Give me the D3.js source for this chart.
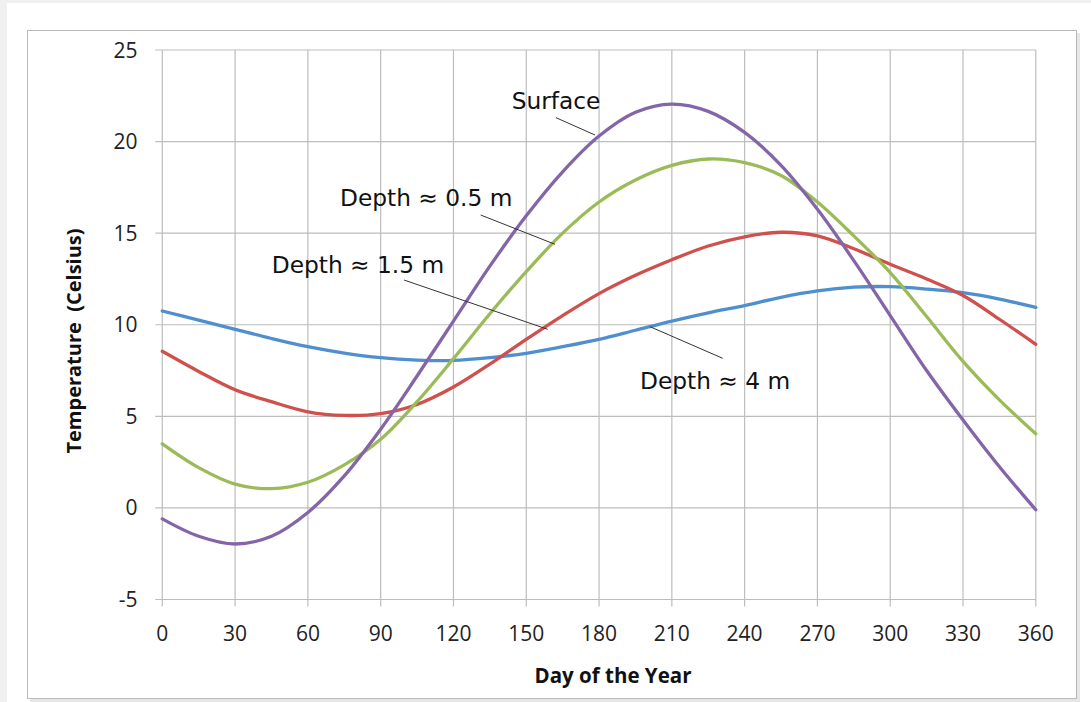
<!DOCTYPE html>
<html>
<head>
<meta charset="utf-8">
<script src="https://cdn.jsdelivr.net/npm/d3@7"></script>
<style>
  html, body { margin: 0; padding: 0; background: #f0f0f0; }
  svg { display: block; }
</style>
</head>
<body>
<svg id="chart" width="1091" height="702"></svg>
<script>
// ---- data ----
const days = [0,15,30,45,60,75,90,105,120,135,150,165,180,195,210,225,240,255,270,285,300,315,330,345,360];
const surface = [-0.6,-1.55,-1.97,-1.55,-0.25,1.75,4.3,7.2,10.2,13.2,15.95,18.35,20.3,21.6,22.05,21.65,20.5,18.7,16.3,13.5,10.5,7.5,4.8,2.25,-0.1];
const depth05 = [3.5,2.2,1.3,1.05,1.4,2.35,3.75,5.8,8.15,10.6,12.9,15.0,16.7,17.9,18.7,19.05,18.85,18.15,16.7,14.85,12.85,10.45,8.0,5.9,4.05];
const depth15 = [8.55,7.45,6.45,5.8,5.25,5.05,5.15,5.65,6.6,7.85,9.2,10.5,11.7,12.7,13.55,14.3,14.8,15.05,14.85,14.15,13.3,12.5,11.6,10.3,8.93];
const depth4  = [10.75,10.25,9.75,9.25,8.8,8.45,8.2,8.07,8.05,8.2,8.44,8.8,9.2,9.7,10.2,10.65,11.05,11.5,11.85,12.05,12.08,11.95,11.75,11.4,10.95];
const xTicks = [0,30,60,90,120,150,180,210,240,270,300,330,360];
const yTicks = [-5,0,5,10,15,20,25];
const seriesNames = ["Depth ≈ 4 m","Depth ≈ 1.5 m","Depth ≈ 0.5 m","Surface"];
const seriesColors = ["#4f8fd0","#cf504c","#9bbb59","#8466a8"];

const svg = d3.select("#chart");

// panel backgrounds
svg.append("rect").attr("x",7).attr("y",3).attr("width",1091-7).attr("height",702-3).attr("fill","#ffffff");
// frame with shadow
svg.append("rect").attr("x",30).attr("y",33).attr("width",1050).attr("height",669)
  .attr("fill","#d6d6d6").attr("opacity",0.6);
svg.append("rect").attr("x",27.5).attr("y",30.5).attr("width",1049).attr("height",668)
  .attr("fill","#ffffff").attr("stroke","#b9b9b9").attr("stroke-width",1);

const x = d3.scaleLinear().domain([0,360]).range([162.3,1035.8]);
const y = d3.scaleLinear().domain([-5,25]).range([599.5,50]);

// grid
const grid = svg.append("g");
grid.selectAll("line.v").data(xTicks).enter().append("line")
  .attr("x1",d=>x(d)).attr("x2",d=>x(d)).attr("y1",y(25)).attr("y2",y(-5)+7)
  .attr("stroke","#bdbdbd").attr("stroke-width",1.2);
grid.selectAll("line.h").data(yTicks).enter().append("line")
  .attr("y1",d=>y(d)).attr("y2",d=>y(d)).attr("x1",x(0)-7).attr("x2",x(360))
  .attr("stroke","#bdbdbd").attr("stroke-width",1.2);

// tick labels
svg.append("g").selectAll("text").data(yTicks).enter().append("text")
  .attr("x",137.5).attr("y",d=>y(d)+7.5)
  .attr("text-anchor","end").attr("font-family","Open Sans").attr("font-size",21).attr("fill","#222")
  .text(d=>d);
svg.append("g").selectAll("text").data(xTicks).enter().append("text")
  .attr("x",d=>x(d)).attr("y",640.5)
  .attr("text-anchor","middle").attr("font-family","Open Sans").attr("font-size",21).attr("fill","#222")
  .text(d=>d);

// axis titles
svg.append("text").attr("x",613).attr("y",683).attr("text-anchor","middle")
  .attr("font-family","Open Sans").attr("font-weight","bold").attr("font-size",20.5).attr("fill","#111")
  .text("Day of the Year");
svg.append("text").attr("transform","translate(81,341) rotate(-90)").attr("text-anchor","middle")
  .attr("font-family","Open Sans").attr("font-weight","bold").attr("font-size",20).attr("fill","#111")
  .attr("xml:space","preserve").style("white-space","pre")
  .text("Temperature  (Celsius)");

// lines
const allSeries = [depth4, depth15, depth05, surface];
const line = d3.line().x((d,i)=>x(days[i])).y(d=>y(d)).curve(d3.curveCatmullRom.alpha(0.5));
svg.append("g").selectAll("path").data(allSeries).enter().append("path")
  .attr("d",d=>line(d)).attr("fill","none")
  .attr("stroke",(d,i)=>seriesColors[i]).attr("stroke-width",3.3)
  .attr("stroke-linecap","round").attr("stroke-linejoin","round");

// annotations
const labels = [
  {t:"Surface", tx:511.7, ty:109.3, x1:556, y1:117.7, x2:595, y2:135},
  {t:"Depth ≈ 0.5 m", tx:340, ty:206, x1:480.7, y1:215, x2:555, y2:244.3},
  {t:"Depth ≈ 1.5 m", tx:271.7, ty:273.3, x1:404, y1:280, x2:547.7, y2:329.3},
  {t:"Depth ≈ 4 m", tx:640, ty:389, x1:650, y1:326.7, x2:722.7, y2:358.3}
];
const ann = svg.append("g");
ann.selectAll("line").data(labels).enter().append("line")
  .attr("x1",d=>d.x1).attr("y1",d=>d.y1).attr("x2",d=>d.x2).attr("y2",d=>d.y2)
  .attr("stroke","#333").attr("stroke-width",1);
ann.selectAll("text").data(labels).enter().append("text")
  .attr("x",d=>d.tx).attr("y",d=>d.ty)
  .attr("font-family","DejaVu Sans").attr("font-size",23.3).attr("fill","#111")
  .text(d=>d.t);
</script>
</body>
</html>
